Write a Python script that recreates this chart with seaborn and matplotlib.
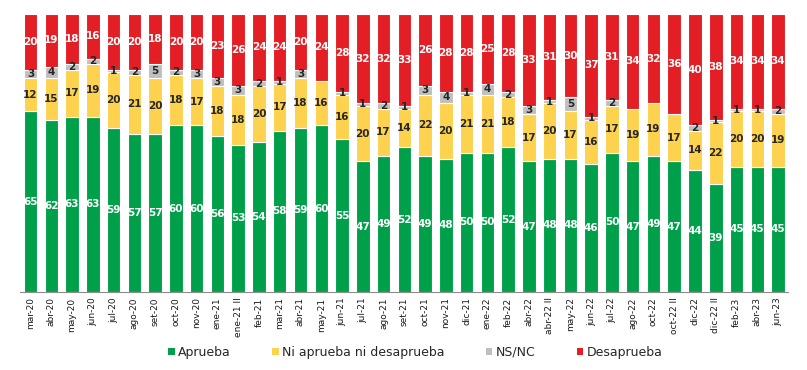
import matplotlib
matplotlib.use("Agg")
import matplotlib.pyplot as plt
import seaborn as sns
import numpy as np
from matplotlib.patches import Patch

periodos = ['mar-20', 'abr-20', 'may-20', 'jun-20', 'jul-20', 'ago-20', 'set-20', 'oct-20',
            'nov-20', 'ene-21', 'ene-21 II', 'feb-21', 'mar-21', 'abr-21', 'may-21', 'jun-21',
            'jul-21', 'ago-21', 'set-21', 'oct-21', 'nov-21', 'dic-21', 'ene-22', 'feb-22',
            'abr-22', 'abr-22 II', 'may-22', 'jun-22', 'jul-22', 'ago-22', 'oct-22',
            'oct-22 II', 'dic-22', 'dic-22 II', 'feb-23', 'abr-23', 'jun-23']

aprueba = [65, 62, 63, 63, 59, 57, 57, 60, 60, 56, 53, 54, 58, 59, 60, 55, 47, 49, 52, 49,
           48, 50, 50, 52, 47, 48, 48, 46, 50, 47, 49, 47, 44, 39, 45, 45, 45]
ni_ni = [12, 15, 17, 19, 20, 21, 20, 18, 17, 18, 18, 20, 17, 18, 16, 16, 20, 17, 14, 22,
         20, 21, 21, 18, 17, 20, 17, 16, 17, 19, 19, 17, 14, 22, 20, 20, 19]
ns_nc = [3, 4, 2, 2, 1, 2, 5, 2, 3, 3, 3, 2, 1, 3, 0, 1, 1, 2, 1, 3,
         4, 1, 4, 2, 3, 1, 5, 1, 2, 0, 0, 0, 2, 1, 1, 1, 2]
desaprueba = [20, 19, 18, 16, 20, 20, 18, 20, 20, 23, 26, 24, 24, 20, 24, 28, 32, 32, 33, 26,
              28, 28, 25, 28, 33, 31, 30, 37, 31, 34, 32, 36, 40, 38, 34, 34, 34]

series = [
    ('Aprueba', aprueba, '#00A04A', 'white'),
    ('Ni aprueba ni desaprueba', ni_ni, '#FDD24E', '#262626'),
    ('NS/NC', ns_nc, '#BFBFBF', '#262626'),
    ('Desaprueba', desaprueba, '#E31E24', 'white'),
]

sns.set_style('white')
plt.rcParams['font.family'] = ['DejaVu Sans']

fig = plt.figure(figsize=(8.07, 3.70), dpi=100)
ax = fig.add_axes([0.025, 0.211, 0.952, 0.751])

# stacked bars: each series sits on top of the running total
base = np.zeros(len(periodos))
for name, vals, col, tcol in series:
    vals = np.array(vals, dtype=float)
    sns.barplot(x=periodos, y=vals, bottom=base, color=col, saturation=1, width=0.65,
                errorbar=None, edgecolor='white', linewidth=0.8, ax=ax)
    cont = ax.containers[-1]
    labs = [str(int(v)) if v > 0 else '' for v in vals]
    ax.bar_label(cont, labels=labs, label_type='center', color=tcol,
                 fontsize=7.5, fontweight='bold')
    base = base + vals

ax.set_xlim(-0.5, 36.5)
ax.set_ylim(0, 100)
ax.set_yticks([])
ax.set_xlabel('')
ax.set_ylabel('')
for s in ['top', 'right', 'left']:
    ax.spines[s].set_visible(False)
ax.spines['bottom'].set_color('#8C8C8C')
ax.spines['bottom'].set_linewidth(0.8)
ax.tick_params(axis='x', length=0, pad=4, labelsize=6.5, labelcolor='#1A1A1A')
plt.setp(ax.get_xticklabels(), rotation=90)

handles = [Patch(facecolor=c, edgecolor='none', label=n) for n, _, c, _ in series]
fig.legend(handles=handles, loc='lower center', bbox_to_anchor=(0.515, 0.0), ncol=4,
           frameon=False, fontsize=9, handlelength=0.5, handleheight=0.5,
           handletextpad=0.3, columnspacing=3.3)

fig.savefig('out.png', dpi=100)
